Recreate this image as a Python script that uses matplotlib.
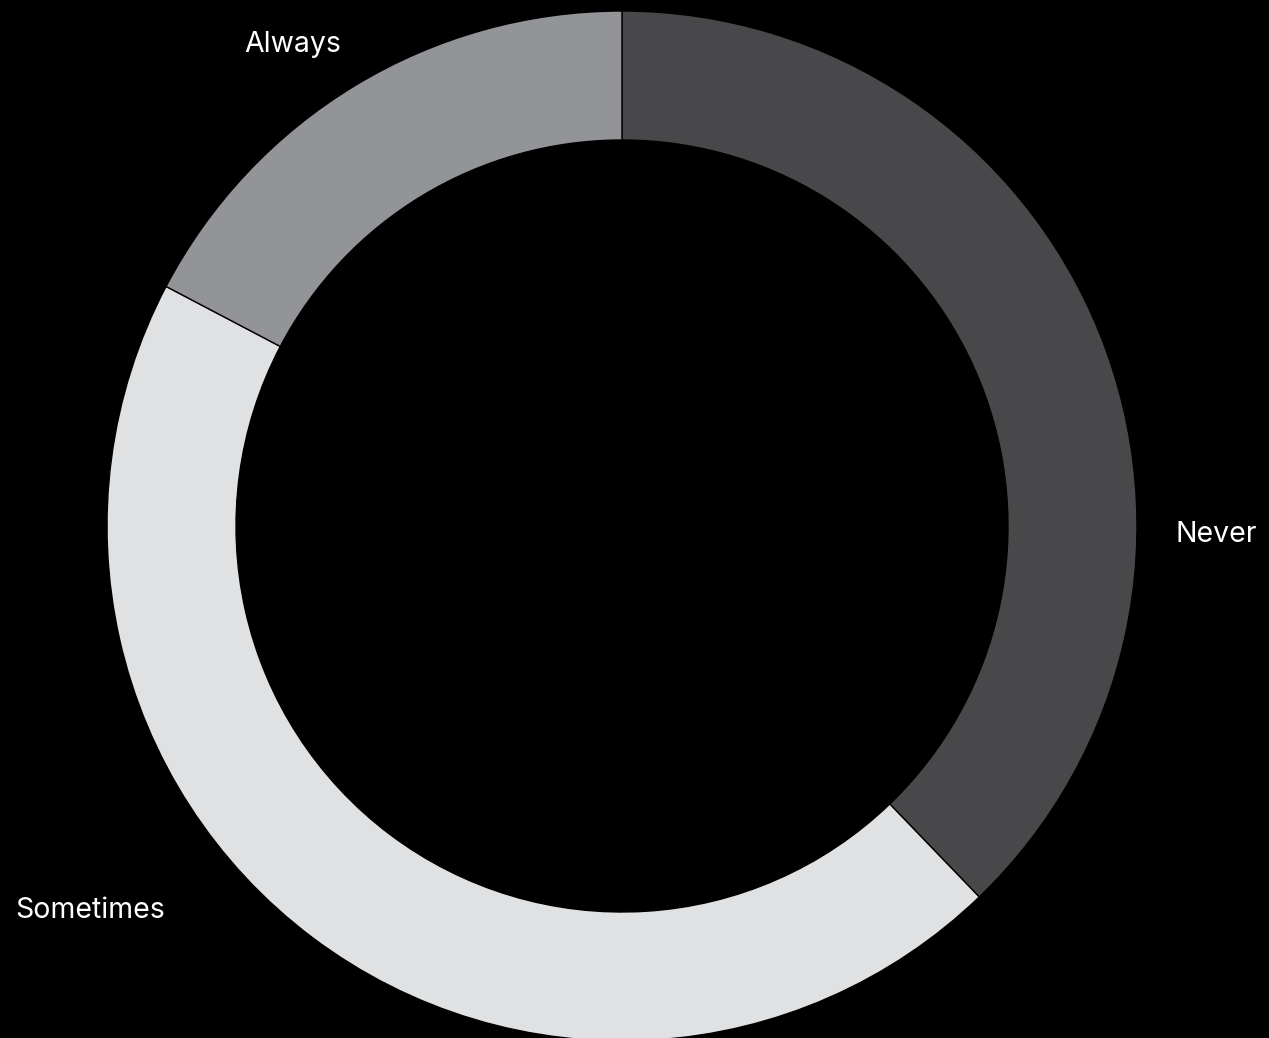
import matplotlib
matplotlib.use("Agg")
import matplotlib.pyplot as plt

# donut data (shares, percent)
categories = ["Never", "Sometimes", "Always"]
values = [37.8, 44.9, 17.3]
colors = ["#48484a", "#e0e1e3", "#939498"]

# label positions in pixels (x, y from top)
label_pos = {"Always": (293, 45), "Never": (1216, 535), "Sometimes": (90, 910)}

W, H = 1269, 1038
fig = plt.figure(figsize=(W / 100, H / 100), dpi=100)
fig.patch.set_facecolor("black")
ax = fig.add_axes([0, 0, 1, 1])
ax.set_facecolor("black")

R = 515
width = 129
ax.pie(values, colors=colors, startangle=90, counterclock=False,
       center=(622, H - 526), radius=R, frame=True,
       wedgeprops=dict(width=width, edgecolor="black", linewidth=1))
ax.set_xlim(0, W)
ax.set_ylim(0, H)
ax.set_aspect("equal")
ax.axis("off")

for name in categories:
    x, y = label_pos[name]
    ax.text(x, H - y, name, color="white", fontsize=20.5, family="Inter",
            ha="center", va="center")

fig.savefig("out.png", dpi=100, facecolor="black")
